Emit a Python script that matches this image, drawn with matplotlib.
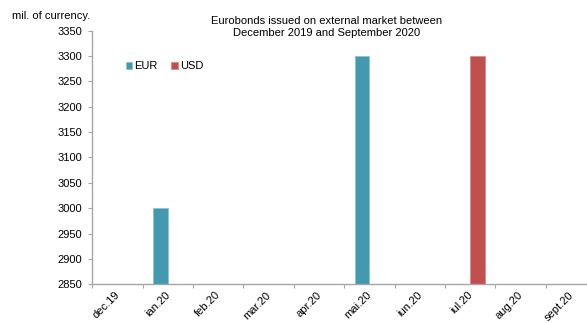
import numpy as np
import matplotlib.pyplot as plt
import matplotlib.transforms as mtransforms

plt.rcParams['font.family'] = ['Liberation Sans', 'DejaVu Sans']
plt.rcParams['font.size'] = 8

months = ['dec.19', 'ian.20', 'feb.20', 'mar.20', 'apr.20',
          'mai.20', 'iun.20', 'iul.20', 'aug.20', 'sept.20']
eur = [np.nan, 3000, np.nan, np.nan, np.nan, 3300, np.nan, np.nan, np.nan, np.nan]
usd = [np.nan, np.nan, np.nan, np.nan, np.nan, np.nan, np.nan, 3300, np.nan, np.nan]

eur_color = '#4299B0'
usd_color = '#C0504D'
axis_gray = '#A6A6A6'

fig = plt.figure(figsize=(5.87, 3.23), dpi=100)
# right edge of the plot runs past the figure border
ax = fig.add_axes([0.1572, 0.1198, 0.8585, 0.7852])

x = np.arange(len(months))
w = 1 / 3.5
ax.bar(x - w / 2, eur, width=w, color=eur_color, edgecolor='#8CC3D3',
       linewidth=0.6, label='EUR')
ax.bar(x + w / 2, usd, width=w, color=usd_color, edgecolor='#D98C8A',
       linewidth=0.6, label='USD')

ax.set_xlim(-0.5, len(months) - 0.5)
ax.set_ylim(2850, 3350)
ax.set_yticks(np.arange(2850, 3351, 50))

# category ticks sit on the boundaries, labels in the middle
ax.set_xticks(np.arange(len(months) + 1) - 0.5)
ax.set_xticklabels([])
ax.set_xticks(x, minor=True)
ax.set_xticklabels(months, minor=True, rotation=45, ha='right', va='top',
                   rotation_mode='anchor')
ax.tick_params(axis='x', which='minor', length=0, pad=4)
ax.tick_params(axis='x', which='major', length=3, color=axis_gray)
ax.tick_params(axis='y', length=3, color=axis_gray, pad=4)

shift = mtransforms.ScaledTranslation(-3 / 100, 0, fig.dpi_scale_trans)
for lab in ax.get_xticklabels(minor=True):
    lab.set_transform(lab.get_transform() + shift)

for side in ['top', 'right']:
    ax.spines[side].set_visible(False)
for side in ['left', 'bottom']:
    ax.spines[side].set_color(axis_gray)
    ax.spines[side].set_linewidth(1.0)

fig.text(12 / 587, 1 - 16 / 323, 'mil. of currency.', ha='left', va='center')
fig.text(327 / 587, 1 - 27 / 323,
         'Eurobonds issued on external market between\nDecember 2019 and September 2020',
         ha='center', va='center', linespacing=1.25)

ax.legend(loc='center left', bbox_to_anchor=(120 / 587, 1 - 66 / 323),
          bbox_transform=fig.transFigure, ncol=2, frameon=False,
          handlelength=0.6, handleheight=0.6, handletextpad=0.2,
          columnspacing=1.2, borderpad=0)

fig.savefig('out.png', dpi=100)
